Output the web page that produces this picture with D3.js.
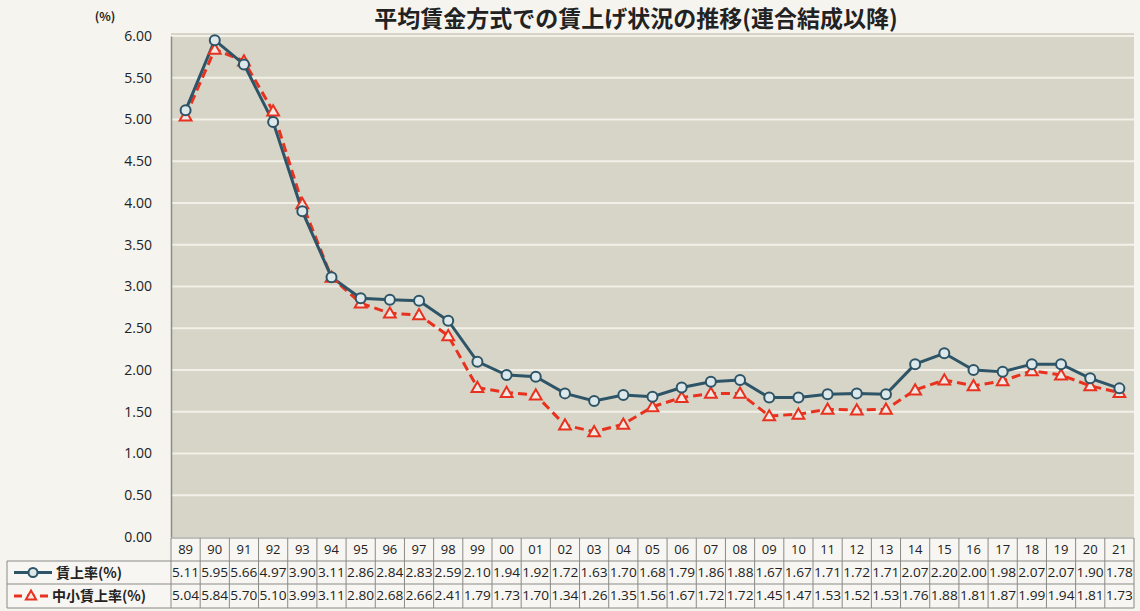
<!DOCTYPE html>
<meta charset="utf-8">
<style>
body { margin: 0; background: #f5f4ef; }
svg { display: block; font-family: "Noto Sans CJK JP", "Noto Sans", sans-serif; }
.grid line { stroke: #f2f0e8; stroke-width: 2px; }
.yaxis text { font-family: "Open Sans", "Noto Sans", sans-serif; font-size: 14px; fill: #222; }
.tbl line { stroke: #8a8a86; stroke-width: 1px; }
.hdr { font-family: "Open Sans", sans-serif; font-size: 13px; fill: #222; }
.val { font-family: "Open Sans", sans-serif; font-size: 12.5px; fill: #222; }
</style>
<svg width="1140" height="611"></svg>
<script src="https://d3js.org/d3.v7.min.js"></script>
<script>

var years = ["89","90","91","92","93","94","95","96","97","98","99","00","01","02","03","04","05",
             "06","07","08","09","10","11","12","13","14","15","16","17","18","19","20","21"];

// 賃上率(%)
var wage = [5.11,5.95,5.66,4.97,3.90,3.11,2.86,2.84,2.83,2.59,2.10,1.94,1.92,1.72,1.63,1.70,1.68,
            1.79,1.86,1.88,1.67,1.67,1.71,1.72,1.71,2.07,2.20,2.00,1.98,2.07,2.07,1.90,1.78];

// 中小賃上率(%)
var sme = [5.04,5.84,5.70,5.10,3.99,3.11,2.80,2.68,2.66,2.41,1.79,1.73,1.70,1.34,1.26,1.35,1.56,
           1.67,1.72,1.72,1.45,1.47,1.53,1.52,1.53,1.76,1.88,1.81,1.87,1.99,1.94,1.81,1.73];

var seriesNames = ["賃上率(%)", "中小賃上率(%)"];
var yTicks = d3.range(0, 6.01, 0.5);

var svg = d3.select("svg"),
    width = +svg.attr("width"),
    height = +svg.attr("height");

var plotLeft = 171, plotRight = 1134, plotTop = 33, plotBottom = 537;
var blue = "#2e5467", red = "#e8321f";

var x = d3.scaleBand().domain(years).range([plotLeft, plotRight]);
var y = d3.scaleLinear().domain([0, 6]).range([plotBottom, plotTop + 3]);

// title
svg.append("text")
    .attr("x", 636).attr("y", 27)
    .attr("text-anchor", "middle")
    .style("font-size", "23px").style("font-weight", "bold").style("fill", "#222")
    .text("平均賃金方式での賃上げ状況の推移(連合結成以降)");

svg.append("text")
    .attr("x", 105).attr("y", 21)
    .attr("text-anchor", "middle")
    .style("font-size", "12px").style("font-weight", "bold").style("fill", "#222")
    .text("(%)");

// plot background
svg.append("rect")
    .attr("x", plotLeft).attr("y", plotTop)
    .attr("width", plotRight - plotLeft).attr("height", plotBottom - plotTop)
    .attr("fill", "#d7d5c7");

svg.append("g").attr("class", "grid")
  .selectAll("line")
  .data(yTicks.filter(function(d) { return d > 0; }))
  .enter().append("line")
    .attr("x1", plotLeft).attr("x2", plotRight)
    .attr("y1", function(d) { return y(d); })
    .attr("y2", function(d) { return y(d); });

var yAxis = svg.append("g")
    .attr("class", "yaxis")
    .attr("transform", "translate(" + plotLeft + ",0)")
    .call(d3.axisLeft(y).tickValues(yTicks).tickFormat(d3.format(".2f")).tickSize(0).tickPadding(19));
yAxis.select(".domain").attr("stroke", "#8d8d88").attr("stroke-width", 1.5);

// lines
var line = d3.line()
    .x(function(d, i) { return x(years[i]) + x.bandwidth() / 2; })
    .y(function(d) { return y(d); });

svg.append("path")
    .datum(sme)
    .attr("fill", "none")
    .attr("stroke", red)
    .attr("stroke-width", 3)
    .attr("stroke-dasharray", "9,5")
    .attr("d", line);

svg.append("path")
    .datum(wage)
    .attr("fill", "none")
    .attr("stroke", blue)
    .attr("stroke-width", 3)
    .attr("d", line);

var tri = d3.symbol().type(d3.symbolTriangle).size(60);

svg.append("g")
  .selectAll("path")
  .data(sme)
  .enter().append("path")
    .attr("d", tri)
    .attr("transform", function(d, i) { return "translate(" + (x(years[i]) + x.bandwidth() / 2) + "," + (y(d) + 1) + ")"; })
    .attr("fill", "#f3e9e4")
    .attr("stroke", red)
    .attr("stroke-width", 2);

svg.append("g")
  .selectAll("circle")
  .data(wage)
  .enter().append("circle")
    .attr("cx", function(d, i) { return x(years[i]) + x.bandwidth() / 2; })
    .attr("cy", function(d) { return y(d); })
    .attr("r", 5)
    .attr("fill", "#dde8ea")
    .attr("stroke", blue)
    .attr("stroke-width", 2);

// data table
var rowTop = [538, 561, 584, 608];
var tbl = svg.append("g").attr("class", "tbl");

tbl.append("rect")
    .attr("x", plotLeft).attr("y", rowTop[0])
    .attr("width", plotRight - plotLeft).attr("height", rowTop[1] - rowTop[0])
    .attr("fill", "#f7f6f2");
tbl.append("rect")
    .attr("x", 7).attr("y", rowTop[1])
    .attr("width", plotRight - 7).attr("height", rowTop[3] - rowTop[1])
    .attr("fill", "#f7f6f2");

// horizontal rules
tbl.selectAll("line.h")
  .data(rowTop)
  .enter().append("line")
    .attr("x1", function(d, i) { return i == 0 ? plotLeft : 7; })
    .attr("x2", plotRight)
    .attr("y1", function(d) { return d; })
    .attr("y2", function(d) { return d; });

// vertical rules
tbl.selectAll("line.v")
  .data(years.concat(["end"]))
  .enter().append("line")
    .attr("x1", function(d, i) { return plotLeft + i * x.step(); })
    .attr("x2", function(d, i) { return plotLeft + i * x.step(); })
    .attr("y1", rowTop[0]).attr("y2", rowTop[3]);

tbl.append("line")
    .attr("x1", 7).attr("x2", 7)
    .attr("y1", rowTop[1]).attr("y2", rowTop[3]);

tbl.selectAll("text.hdr")
  .data(years)
  .enter().append("text")
    .attr("class", "hdr")
    .attr("x", function(d) { return x(d) + x.bandwidth() / 2; })
    .attr("y", rowTop[0] + 16)
    .attr("text-anchor", "middle")
    .text(function(d) { return d; });

[wage, sme].forEach(function(vals, r) {
  tbl.selectAll("text.v" + r)
    .data(vals)
    .enter().append("text")
      .attr("class", "val")
      .attr("x", function(d, i) { return x(years[i]) + 1; })
      .attr("y", rowTop[r + 1] + 16)
      .attr("textLength", 27)
      .attr("lengthAdjust", "spacingAndGlyphs")
      .text(function(d) { return d.toFixed(2); });
});

// legend keys in the table
var k1 = rowTop[1] + 11.5, k2 = rowTop[2] + 12;
tbl.append("line")
    .attr("x1", 14).attr("x2", 52).attr("y1", k1).attr("y2", k1)
    .style("stroke", blue).style("stroke-width", 3);
tbl.append("circle")
    .attr("cx", 33).attr("cy", k1).attr("r", 4.5)
    .attr("fill", "#dde8ea").attr("stroke", blue).attr("stroke-width", 2);
tbl.append("text")
    .attr("x", 56).attr("y", k1 + 5)
    .style("font-size", "14px").style("font-weight", "bold").style("fill", "#222")
    .text(seriesNames[0]);

tbl.append("line")
    .attr("x1", 14).attr("x2", 48).attr("y1", k2).attr("y2", k2)
    .style("stroke", red).style("stroke-width", 3).style("stroke-dasharray", "8,5");
tbl.append("path")
    .attr("d", d3.symbol().type(d3.symbolTriangle).size(45))
    .attr("transform", "translate(31," + (k2 + 0.5) + ")")
    .attr("fill", "#f3e9e4").attr("stroke", red).attr("stroke-width", 2);
tbl.append("text")
    .attr("x", 52).attr("y", k2 + 5)
    .style("font-size", "14px").style("font-weight", "bold").style("fill", "#222")
    .text(seriesNames[1]);

</script>
